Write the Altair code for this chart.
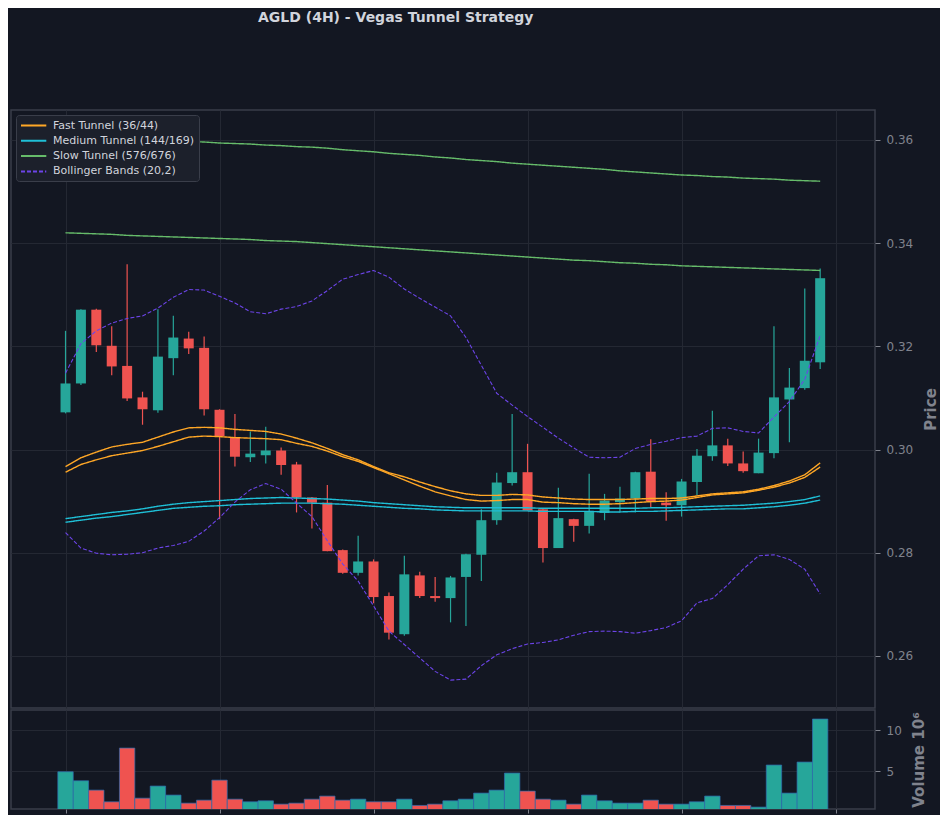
import altair as alt
import pandas as pd

idx = list(range(50))
opens = [0.3072, 0.3128, 0.3271, 0.3201, 0.3162, 0.3101, 0.3076, 0.3177, 0.3215, 0.3197,
         0.3077, 0.3024, 0.2985, 0.2989, 0.2998, 0.2971, 0.2907, 0.2897, 0.2805, 0.2761,
         0.2783, 0.2716, 0.2642, 0.2756, 0.2716, 0.2712, 0.2753, 0.2796, 0.2863, 0.2935,
         0.2956, 0.2884, 0.2809, 0.2865, 0.2852, 0.2877, 0.2898, 0.2905, 0.2957, 0.2897,
         0.2892, 0.2937, 0.2987, 0.3008, 0.2973, 0.2954, 0.2993, 0.3097, 0.3119, 0.3169]
highs = [0.3230, 0.3272, 0.3273, 0.3239, 0.3359, 0.3112, 0.3272, 0.3259, 0.3228, 0.3219,
         0.3078, 0.3069, 0.3035, 0.3044, 0.3004, 0.2976, 0.2908, 0.2931, 0.2806, 0.2833,
         0.2787, 0.2723, 0.2794, 0.2763, 0.2753, 0.2755, 0.2798, 0.2884, 0.2955, 0.3069,
         0.3011, 0.2885, 0.2926, 0.2866, 0.2953, 0.2914, 0.2928, 0.2957, 0.3020, 0.2917,
         0.2943, 0.3001, 0.3075, 0.3021, 0.2996, 0.3021, 0.3239, 0.3158, 0.3312, 0.3351]
lows = [0.3070, 0.3125, 0.3189, 0.3144, 0.3094, 0.3048, 0.3071, 0.3144, 0.3185, 0.3066,
        0.2865, 0.2967, 0.2976, 0.2973, 0.2951, 0.2878, 0.2847, 0.2803, 0.2759, 0.2756,
        0.2702, 0.2632, 0.2639, 0.2712, 0.2705, 0.2665, 0.2658, 0.2745, 0.2854, 0.2930,
        0.2882, 0.2781, 0.2809, 0.2821, 0.2837, 0.2863, 0.2878, 0.2878, 0.2888, 0.2862,
        0.2870, 0.2912, 0.2978, 0.2968, 0.2955, 0.2954, 0.2983, 0.3014, 0.3116, 0.3156]
closes = [0.3128, 0.3271, 0.3202, 0.3161, 0.3099, 0.3078, 0.3180, 0.3217, 0.3196, 0.3078,
          0.3026, 0.2986, 0.2992, 0.2998, 0.2970, 0.2907, 0.2897, 0.2803, 0.2761, 0.2783,
          0.2714, 0.2645, 0.2758, 0.2716, 0.2712, 0.2752, 0.2797, 0.2863, 0.2936, 0.2956,
          0.2882, 0.2809, 0.2867, 0.2852, 0.2879, 0.2901, 0.2905, 0.2956, 0.2899, 0.2892,
          0.2938, 0.2988, 0.3008, 0.2973, 0.2958, 0.2994, 0.3101, 0.3120, 0.3172, 0.3332]
volumes_m = [4.96, 3.87, 2.74, 1.33, 7.82, 1.77, 3.23, 2.14, 1.17, 1.53,
             3.95, 1.65, 1.33, 1.45, 1.05, 1.17, 1.65, 2.02, 1.53, 1.65,
             1.33, 1.33, 1.65, 0.89, 1.05, 1.45, 1.65, 2.38, 2.74, 4.80,
             2.62, 1.65, 1.53, 1.05, 2.14, 1.45, 1.17, 1.17, 1.53, 1.05,
             1.05, 1.33, 2.02, 0.89, 0.89, 0.69, 5.77, 2.38, 6.13, 11.33]

fast_upper = [0.2967, 0.2984, 0.2995, 0.3005, 0.3010, 0.3014, 0.3024, 0.3034, 0.3042, 0.3043,
              0.3042, 0.3039, 0.3037, 0.3035, 0.3030, 0.3022, 0.3013, 0.3002, 0.2990, 0.2980,
              0.2967, 0.2955, 0.2947, 0.2937, 0.2928, 0.2920, 0.2914, 0.2911, 0.2911, 0.2913,
              0.2912, 0.2908, 0.2906, 0.2904, 0.2903, 0.2903, 0.2903, 0.2904, 0.2905, 0.2905,
              0.2906, 0.2910, 0.2914, 0.2916, 0.2918, 0.2923, 0.2930, 0.2939, 0.2951, 0.2974]
fast_lower = [0.2956, 0.2971, 0.2980, 0.2988, 0.2993, 0.2998, 0.3006, 0.3015, 0.3024, 0.3026,
              0.3025, 0.3023, 0.3022, 0.3021, 0.3019, 0.3012, 0.3006, 0.2997, 0.2986, 0.2977,
              0.2965, 0.2953, 0.2941, 0.2929, 0.2918, 0.2910, 0.2903, 0.2900, 0.2901, 0.2903,
              0.2903, 0.2898, 0.2897, 0.2895, 0.2894, 0.2894, 0.2895, 0.2897, 0.2899, 0.2900,
              0.2902, 0.2907, 0.2912, 0.2914, 0.2916, 0.2921, 0.2927, 0.2935, 0.2946, 0.2966]
med_upper = [0.2866, 0.2870, 0.2874, 0.2878, 0.2881, 0.2885, 0.2890, 0.2894, 0.2897, 0.2899,
             0.2901, 0.2903, 0.2905, 0.2906, 0.2907, 0.2906, 0.2905, 0.2904, 0.2902, 0.2900,
             0.2897, 0.2895, 0.2893, 0.2891, 0.2889, 0.2888, 0.2887, 0.2887, 0.2887, 0.2887,
             0.2887, 0.2886, 0.2886, 0.2886, 0.2886, 0.2886, 0.2886, 0.2886, 0.2887, 0.2887,
             0.2888, 0.2889, 0.2890, 0.2891, 0.2892, 0.2894, 0.2896, 0.2899, 0.2903, 0.2910]
med_lower = [0.2859, 0.2863, 0.2867, 0.2870, 0.2874, 0.2878, 0.2882, 0.2886, 0.2888, 0.2890,
             0.2891, 0.2893, 0.2894, 0.2895, 0.2896, 0.2896, 0.2896, 0.2895, 0.2894, 0.2892,
             0.2890, 0.2888, 0.2886, 0.2885, 0.2883, 0.2882, 0.2881, 0.2881, 0.2881, 0.2881,
             0.2881, 0.2880, 0.2880, 0.2880, 0.2880, 0.2879, 0.2879, 0.2880, 0.2880, 0.2881,
             0.2882, 0.2883, 0.2884, 0.2885, 0.2885, 0.2887, 0.2889, 0.2892, 0.2896, 0.2902]
slow_upper = [0.3607, 0.3606, 0.3605, 0.3603, 0.3602, 0.3601, 0.3600, 0.3598, 0.3597, 0.3596,
              0.3594, 0.3593, 0.3592, 0.3590, 0.3589, 0.3587, 0.3586, 0.3584, 0.3581, 0.3579,
              0.3577, 0.3574, 0.3572, 0.3570, 0.3567, 0.3565, 0.3562, 0.3560, 0.3558, 0.3555,
              0.3553, 0.3551, 0.3549, 0.3547, 0.3545, 0.3543, 0.3540, 0.3538, 0.3536, 0.3534,
              0.3532, 0.3531, 0.3529, 0.3528, 0.3526, 0.3525, 0.3524, 0.3522, 0.3521, 0.3520]
slow_lower = [0.3420, 0.3419, 0.3418, 0.3417, 0.3415, 0.3414, 0.3413, 0.3412, 0.3411, 0.3410,
              0.3409, 0.3408, 0.3407, 0.3405, 0.3404, 0.3403, 0.3401, 0.3399, 0.3397, 0.3395,
              0.3393, 0.3391, 0.3389, 0.3387, 0.3385, 0.3383, 0.3381, 0.3379, 0.3377, 0.3375,
              0.3373, 0.3371, 0.3369, 0.3367, 0.3366, 0.3364, 0.3362, 0.3361, 0.3359, 0.3358,
              0.3356, 0.3355, 0.3354, 0.3353, 0.3352, 0.3351, 0.3350, 0.3349, 0.3348, 0.3347]
bb_upper = [0.3148, 0.3205, 0.3230, 0.3245, 0.3254, 0.3259, 0.3274, 0.3295, 0.3310, 0.3309,
            0.3297, 0.3284, 0.3267, 0.3263, 0.3272, 0.3277, 0.3288, 0.3308, 0.3330, 0.3339,
            0.3347, 0.3334, 0.3311, 0.3293, 0.3276, 0.3259, 0.3217, 0.3163, 0.3109, 0.3086,
            0.3064, 0.3043, 0.3022, 0.3003, 0.2985, 0.2984, 0.2985, 0.3002, 0.3010, 0.3016,
            0.3023, 0.3026, 0.3041, 0.3042, 0.3035, 0.3032, 0.3063, 0.3093, 0.3136, 0.3221]
bb_lower = [0.2839, 0.2809, 0.2799, 0.2796, 0.2797, 0.2800, 0.2809, 0.2814, 0.2822, 0.2842,
            0.2868, 0.2898, 0.2922, 0.2934, 0.2923, 0.2896, 0.2870, 0.2823, 0.2778, 0.2745,
            0.2697, 0.2648, 0.2622, 0.2596, 0.2570, 0.2553, 0.2555, 0.2581, 0.2602, 0.2614,
            0.2623, 0.2626, 0.2631, 0.2640, 0.2647, 0.2648, 0.2647, 0.2644, 0.2649, 0.2655,
            0.2668, 0.2703, 0.2711, 0.2738, 0.2768, 0.2794, 0.2796, 0.2787, 0.2768, 0.2720]

groups = ["Fast Tunnel (36/44)", "Medium Tunnel (144/169)", "Slow Tunnel (576/676)", "Bollinger Bands (20,2)"]
group_colors = ["#FFA726", "#1FBFD6", "#66BB6A", "#6C44E8"]
x_ticks = [0, 10, 20, 30, 40, 50]
price_ticks = [0.26, 0.28, 0.30, 0.32, 0.34, 0.36]
vol_ticks = [5, 10]

UP, DOWN = "#26A69A", "#EF5350"
BG = "#131722"
GRID = "#242833"
AXC = "#80838d"
FONT = "DejaVu Sans"

candles = pd.DataFrame({"idx": idx, "open": opens, "high": highs, "low": lows,
                        "close": closes, "volume": volumes_m})
candles["col"] = [UP if c >= o else DOWN for o, c in zip(opens, closes)]

rows = []
for name, grp, vals in [("fu", groups[0], fast_upper), ("fl", groups[0], fast_lower),
                        ("mu", groups[1], med_upper), ("ml", groups[1], med_lower),
                        ("su", groups[2], slow_upper), ("sl", groups[2], slow_lower)]:
    for i, v in zip(idx, vals):
        rows.append({"idx": i, "value": v, "line": name, "group": grp})
tunnels = pd.DataFrame(rows)
rows = []
for name, vals in [("bbu", bb_upper), ("bbl", bb_lower)]:
    for i, v in zip(idx, vals):
        rows.append({"idx": i, "value": v, "line": name, "group": groups[3]})
bands = pd.DataFrame(rows)

xscale = alt.Scale(domain=[-3.54, 52.56], nice=False, zero=False, padding=0)
pscale = alt.Scale(domain=[0.2499, 0.3658], nice=False, zero=False, padding=0)

x_price = alt.X("idx:Q", scale=xscale,
                axis=alt.Axis(values=x_ticks, labels=False, ticks=False, domain=False,
                              title=None, grid=True, gridColor=GRID))
y_price_axis = alt.Axis(orient="right", values=price_ticks, format=".2f", title="Price",
                        titleAngle=270, titleBaseline="top", titlePadding=11, titleFontSize=15,
                        titleFontWeight="bold", titleColor=AXC, labelColor=AXC, labelFontSize=12,
                        labelPadding=6, tickSize=5, tickColor=AXC, domain=False, grid=True,
                        gridColor=GRID)

legend_cfg = alt.Legend(title=None, orient="top-left")
color_enc = alt.Color("group:N", scale=alt.Scale(domain=groups, range=group_colors), legend=legend_cfg)
dash_enc = alt.StrokeDash("group:N", scale=alt.Scale(domain=groups, range=[[1, 0], [1, 0], [1, 0], [4, 2]]),
                          legend=legend_cfg)

wicks = alt.Chart(candles).mark_rule(strokeWidth=1.2).encode(
    x=x_price,
    y=alt.Y("low:Q", scale=pscale, axis=y_price_axis),
    y2="high:Q",
    color=alt.Color("col:N", scale=None),
)
bodies = alt.Chart(candles).mark_bar(size=10).encode(
    x="idx:Q", y="open:Q", y2="close:Q", color=alt.Color("col:N", scale=None)
)
tunnel_lines = alt.Chart(tunnels).mark_line(strokeWidth=1.4).encode(
    x="idx:Q", y="value:Q", color=color_enc, strokeDash=dash_enc, detail="line:N"
)
band_lines = alt.Chart(bands).mark_line(strokeWidth=1.1).encode(
    x="idx:Q", y="value:Q", color=color_enc, strokeDash=dash_enc, detail="line:N"
)
price = alt.layer(wicks, bodies, tunnel_lines, band_lines).properties(width=864, height=598)

volume = alt.Chart(candles).mark_bar(size=15.4, stroke="#2F6DB0", strokeWidth=0.7, clip=True).encode(
    x=alt.X("idx:Q", scale=xscale,
            axis=alt.Axis(values=x_ticks, labels=False, ticks=True, tickSize=4, tickColor=AXC,
                          domain=False, title=None, grid=True, gridColor=GRID)),
    y=alt.Y("volume:Q", scale=alt.Scale(domain=[0.46, 12.42], nice=False, zero=False, padding=0),
            axis=alt.Axis(orient="right", values=vol_ticks, title="Volume 10⁶", titleAngle=270,
                          titleBaseline="top", titlePadding=10, titleFontSize=15,
                          titleFontWeight="bold", titleColor=AXC, labelColor=AXC, labelFontSize=12,
                          labelPadding=6, tickSize=5, tickColor=AXC, domain=False, grid=True,
                          gridColor=GRID)),
    y2=alt.datum(0),
    color=alt.Color("col:N", scale=None),
).properties(width=864, height=99)

chart = alt.vconcat(price, volume, spacing=0).properties(
    background=BG,
    padding={"left": 2, "top": 3, "right": 0, "bottom": 0},
    title=alt.Title("AGLD (4H) - Vegas Tunnel Strategy", anchor="start", dx=247, offset=84,
                    fontSize=14, fontWeight="bold", color="#d1d4dc", font=FONT, frame="group"),
).configure_view(
    stroke="#3a3e4a", strokeWidth=1.5, fill=BG
).configure_axis(
    labelFont=FONT, titleFont=FONT
).configure_legend(
    orient="top-left", offset=5, padding=4, fillColor="#1c202b", strokeColor="#3a3e4a",
    cornerRadius=3, labelColor="#d1d4dc", labelFont=FONT, labelFontSize=11,
    symbolType="M-1,0H3.6", symbolSize=121, symbolStrokeWidth=2, rowPadding=3.3, labelOffset=20
)

chart.save("out.html", embed_options={"renderer": "svg", "actions": False})
